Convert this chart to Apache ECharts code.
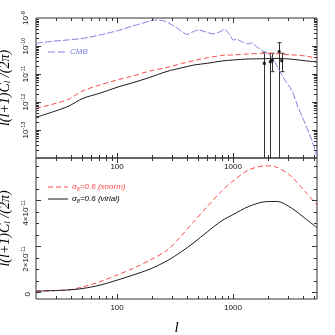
<!DOCTYPE html>
<html><head><meta charset="utf-8">
<script src="https://cdn.jsdelivr.net/npm/echarts@6/dist/echarts.min.js"></script>
<style>html,body{margin:0;padding:0;background:#fff}#c{width:335px;height:335px}</style>
</head><body><div id="c"></div>
<script>
// ---- data ----
const ells = [20, 37, 51, 71, 100, 137, 192, 270, 360, 460, 600, 800, 1000, 1350, 1900, 2400, 3200, 4200, 5300];
// upper panel (log scale)
const xnormTop = [5.96e-13, 1.18e-12, 2.54e-12, 4.05e-12, 6.1e-12, 8.5e-12, 1.28e-11, 1.71e-11, 2.37e-11, 3.01e-11, 3.79e-11, 4.58e-11, 4.81e-11, 5.18e-11, 5.48e-11, 5.26e-11, 4.85e-11, 4.4e-11, 3.64e-11];
const virialTop = [2.85e-13, 6.7e-13, 1.36e-12, 2.05e-12, 3.35e-12, 4.9e-12, 7.6e-12, 1.24e-11, 1.66e-11, 2.09e-11, 2.41e-11, 2.91e-11, 3.16e-11, 3.43e-11, 3.52e-11, 3.62e-11, 3.38e-11, 2.96e-11, 2.68e-11];
// lower panel (linear scale)
const xnormBot = [5e-13, 9e-13, 2.3e-12, 4.5e-12, 7.4e-12, 1.03e-11, 1.39e-11, 1.82e-11, 2.46e-11, 3.07e-11, 3.72e-11, 4.4e-11, 4.83e-11, 5.3e-11, 5.49e-11, 5.42e-11, 5.02e-11, 4.36e-11, 3.78e-11];
const virialBot = [4e-13, 9e-13, 1.6e-12, 3.0e-12, 5.2e-12, 7.4e-12, 1.0e-11, 1.36e-11, 1.76e-11, 2.15e-11, 2.62e-11, 3.1e-11, 3.37e-11, 3.71e-11, 3.93e-11, 3.94e-11, 3.65e-11, 3.2e-11, 2.8e-11];
// CMB spectrum
const cmbL = [20, 26, 37, 51, 71, 100, 137, 192, 215, 250, 290, 316, 363, 401, 441, 503, 574, 676, 773, 842, 942, 1003, 1074, 1190, 1352, 1448, 1594, 1767, 1888, 2154, 2450, 2800, 3200, 3630, 4170, 4770, 5270];
const cmbV = [1.25e-10, 1.43e-10, 1.64e-10, 1.88e-10, 2.47e-10, 3.5e-10, 5.2e-10, 7.8e-10, 8.5e-10, 8.0e-10, 6.1e-10, 4.9e-10, 3.24e-10, 2.6e-10, 3.08e-10, 3.7e-10, 3.24e-10, 2.69e-10, 3.24e-10, 3.95e-10, 2.47e-10, 1.64e-10, 1.73e-10, 1.43e-10, 1.18e-10, 1.31e-10, 9.4e-11, 7.2e-11, 5.96e-11, 4.15e-11, 1.6e-11, 6.1e-12, 2.7e-12, 6.8e-13, 1.73e-13, 4.4e-14, 1.28e-14];
// measured points with error bars (lower error 1e-16 = runs off the bottom of the plot)
const ptL = [1860, 2100, 2190, 2500, 2630];
const ptV = [2.41e-11, 2.75e-11, 3.16e-11, 6.25e-11, 2.99e-11];
const ptLo = [1e-16, 1e-16, 1.21e-11, 1e-16, 1.21e-11];
const ptHi = [5.96e-11, 5.48e-11, 5.48e-11, 1.31e-10, 5.48e-11];
// ticks / labels
const xMajor = [100, 1000];
const xMinor = [30, 40, 50, 60, 70, 80, 90, 200, 300, 400, 500, 600, 700, 800, 900, 2000, 3000, 4000, 5000];
const yTopMajor = [1e-13, 1e-12, 1e-11, 1e-10];
const yTopLabels = [1e-13, 1e-12, 1e-11, 1e-10, 1e-9];
const yBotLabels = [0, 2e-11, 4e-11];
const yBotMinor = [0.5e-11, 1e-11, 1.5e-11, 2.5e-11, 3e-11, 3.5e-11, 4.5e-11, 5e-11, 5.5e-11];
const minorMult = [2, 3, 4, 5, 6, 7, 8, 9];
const decades = [-14, -13, -12, -11, -10];

const yTopMinor = [];
decades.forEach(e => minorMult.forEach(m => yTopMinor.push(+(m + 'e' + e))));

const RED = '#ff4a4a', BLUE = '#8080e0', BLK = '#1a1a1a', AX = '#333';
const SANS = '"Liberation Sans", Arial, sans-serif';
const SERIF = '"Liberation Serif", "Times New Roman", serif';
const MAJ = 5, MIN = 3;
const X_MIN = 20, X_MAX = 5300, YT_MIN = 1e-14, YT_MAX = 1e-9, YB_MIN = -0.3e-11, YB_MAX = 5.83e-11;

const xLabel = { show: true, customValues: xMajor, fontSize: 8, fontFamily: SANS, color: '#111', margin: 5, formatter: v => String(Math.round(v)) };
function xAx(grid, named) {
  const a = { type: 'log', logBase: 10, gridIndex: grid, position: 'bottom', min: X_MIN, max: X_MAX,
    axisLine: { show: false, onZero: false }, axisTick: { show: false }, axisLabel: xLabel,
    splitLine: { show: false }, minorTick: { show: false } };
  if (named) Object.assign(a, { name: 'l', nameLocation: 'middle', nameGap: 22,
    nameTextStyle: { fontSize: 15, fontStyle: 'italic', fontFamily: SERIF, color: '#000' } });
  return a;
}
const supRich = { b: { fontSize: 8, fontFamily: SANS, color: '#111' }, s: { fontSize: 5.5, fontFamily: SANS, color: '#111', padding: [0, 0, 6, 0] } };
const titleRich = {
  t: { fontSize: 14, fontStyle: 'italic', fontFamily: SERIF, color: '#000' },
  s: { fontSize: 9, fontStyle: 'italic', fontFamily: SERIF, color: '#000', padding: [5, 0, 0, 0] }
};
const titleText = '{t|l(l+1)C}{s|l}{t| /(2π)}';
const yName = { name: titleText, nameLocation: 'middle', nameRotate: 90, nameGap: 10, nameTextStyle: { rich: titleRich } };

const yAxes = [
  Object.assign({ type: 'log', logBase: 10, gridIndex: 0, position: 'left', min: YT_MIN, max: YT_MAX,
    axisLine: { show: false, onZero: false }, axisTick: { show: false },
    axisLabel: { show: true, customValues: yTopLabels, rotate: 90, margin: 4,
      formatter: v => '{b|10}{s|' + Math.round(Math.log10(v)) + '}', rich: supRich },
    splitLine: { show: false }, minorTick: { show: false } }, yName),
  Object.assign({ type: 'value', gridIndex: 1, position: 'left', min: YB_MIN, max: YB_MAX,
    axisLine: { show: false, onZero: false }, axisTick: { show: false },
    axisLabel: { show: true, customValues: yBotLabels, rotate: 90, margin: 4, align: 'right',
      formatter: v => v === 0 ? '{b|0}' : '{b|' + Math.round(v / 1e-11) + '×10}{s|-11}', rich: supRich },
    splitLine: { show: false }, minorTick: { show: false } }, yName)
];

const zip = (a, b) => a.map((v, i) => [v, b[i]]);

const legendGraphics = [
  { type: 'line', shape: { x1: 48, y1: 52, x2: 67, y2: 52 }, style: { stroke: BLUE, lineWidth: 1, lineDash: [7, 3] } },
  { type: 'text', x: 70, y: 52, style: { text: 'CMB', font: 'italic 8px ' + SANS, fill: BLUE, verticalAlign: 'middle' } },
  { type: 'line', shape: { x1: 48, y1: 187, x2: 68, y2: 187 }, style: { stroke: RED, lineWidth: 1, lineDash: [5, 3] } },
  { type: 'text', x: 72, y: 187, style: { text: '{a|σ}{b|8}{a|=0.6 (xnorm)}', verticalAlign: 'middle',
    rich: { a: { fontSize: 8, fontStyle: 'italic', fontFamily: SANS, fill: RED }, b: { fontSize: 5.5, fontStyle: 'italic', fontFamily: SANS, fill: RED, padding: [4, 0, 0, 0] } } } },
  { type: 'line', shape: { x1: 48, y1: 199, x2: 68, y2: 199 }, style: { stroke: BLK, lineWidth: 1 } },
  { type: 'text', x: 72, y: 199, style: { text: '{a|σ}{b|8}{a|=0.6 (virial)}', verticalAlign: 'middle',
    rich: { a: { fontSize: 8, fontStyle: 'italic', fontFamily: SANS, fill: '#000' }, b: { fontSize: 5.5, fontStyle: 'italic', fontFamily: SANS, fill: '#000', padding: [4, 0, 0, 0] } } } }
];

const gridBase = { show: true, borderColor: AX, borderWidth: 1, backgroundColor: 'transparent', containLabel: false, outerBoundsMode: 'none' };
const option = {
  animation: false,
  backgroundColor: '#fff',
  grid: [
    Object.assign({ left: 36, top: 18, width: 281, height: 140 }, gridBase),
    Object.assign({ left: 36, top: 158, width: 281, height: 141 }, gridBase)
  ],
  xAxis: [xAx(0, false), xAx(1, true)],
  yAxis: yAxes,
  series: [
    { type: 'line', name: 'CMB', xAxisIndex: 0, yAxisIndex: 0, data: zip(cmbL, cmbV), symbol: 'none', smooth: 0.25,
      lineStyle: { color: BLUE, width: 1, type: [7, 2] } },
    { type: 'line', name: 'xnorm', xAxisIndex: 0, yAxisIndex: 0, data: zip(ells, xnormTop), symbol: 'none', smooth: 0.3,
      lineStyle: { color: RED, width: 1, type: [5, 3] } },
    { type: 'line', name: 'virial', xAxisIndex: 0, yAxisIndex: 0, data: zip(ells, virialTop), symbol: 'none', smooth: 0.3,
      lineStyle: { color: BLK, width: 1 } },
    { type: 'custom', name: 'err', xAxisIndex: 0, yAxisIndex: 0,
      data: ptL.map((l, i) => [l, ptLo[i], ptHi[i]]),
      encode: { x: 0, y: [1, 2] },
      renderItem: (params, api) => {
        const l = api.value(0), lo = api.value(1), hi = api.value(2);
        const pH = api.coord([l, hi]), pL = api.coord([l, lo]);
        const cs = params.coordSys; const bottom = cs.y + cs.height;
        const x = Math.round(pH[0]) + 0.5;
        const yLo = Math.min(pL[1], bottom);
        const st = { stroke: '#333', lineWidth: 1 };
        const ch = [
          { type: 'line', shape: { x1: x, y1: pH[1], x2: x, y2: yLo }, style: st },
          { type: 'line', shape: { x1: x - 2, y1: pH[1], x2: x + 2, y2: pH[1] }, style: st }
        ];
        if (pL[1] < bottom) ch.push({ type: 'line', shape: { x1: x - 2, y1: pL[1], x2: x + 2, y2: pL[1] }, style: st });
        return { type: 'group', children: ch };
      } },
    { type: 'scatter', name: 'pts', xAxisIndex: 0, yAxisIndex: 0, data: zip(ptL, ptV), symbol: 'rect', symbolSize: 3,
      itemStyle: { color: '#000' } },
    { type: 'line', name: 'xnormB', xAxisIndex: 1, yAxisIndex: 1, data: zip(ells, xnormBot), symbol: 'none', smooth: 0.3,
      lineStyle: { color: RED, width: 1, type: [5, 3] } },
    { type: 'line', name: 'virialB', xAxisIndex: 1, yAxisIndex: 1, data: zip(ells, virialBot), symbol: 'none', smooth: 0.3,
      lineStyle: { color: BLK, width: 1 } }
  ],
  graphic: legendGraphics
};
const chart = echarts.init(document.getElementById('c'), null, { renderer: 'canvas' });
chart.setOption(option);

// tick marks on all four sides, positioned through the axes' own scales
const ticks = [];
function seg(x1, y1, x2, y2) {
  ticks.push({ type: 'line', z: 50, shape: { x1, y1, x2, y2 }, style: { stroke: AX, lineWidth: 1 } });
}
const px = (gi, v) => chart.convertToPixel({ xAxisIndex: gi }, v);
const py = (gi, v) => chart.convertToPixel({ yAxisIndex: gi }, v);
const yLim = [[YT_MIN, YT_MAX], [YB_MIN, YB_MAX]];
function xTicks(gi, vals, len) {
  const top = py(gi, yLim[gi][1]), bot = py(gi, yLim[gi][0]);
  vals.forEach(v => {
    const x = Math.round(px(gi, v)) + 0.5;
    seg(x, top, x, top + len);
    seg(x, bot, x, bot - len);
  });
}
function yTicks(gi, vals, len) {
  const left = px(gi, X_MIN), right = px(gi, X_MAX);
  vals.forEach(v => {
    const y = Math.round(py(gi, v)) + 0.5;
    seg(left, y, left + len, y);
    seg(right, y, right - len, y);
  });
}
xTicks(0, xMajor, MAJ); xTicks(0, xMinor, MIN);
yTicks(0, yTopMajor, MAJ); yTicks(0, yTopMinor, MIN);
xTicks(1, xMajor, MAJ); xTicks(1, xMinor, MIN);
yTicks(1, yBotLabels, MAJ); yTicks(1, yBotMinor, MIN);
chart.setOption({ graphic: legendGraphics.concat(ticks) });
</script></body></html>
